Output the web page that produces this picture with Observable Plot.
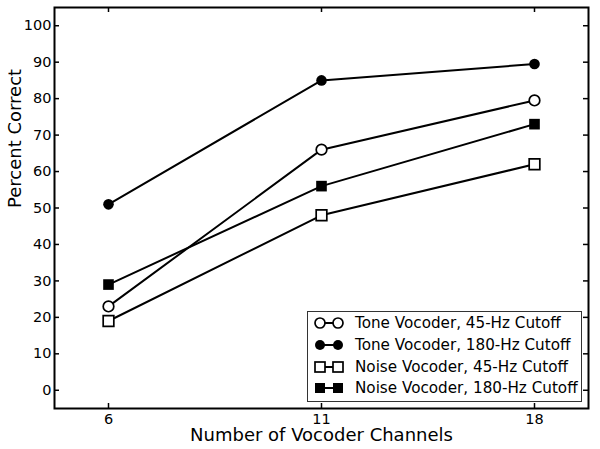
<!DOCTYPE html>
<html>
<head>
<meta charset="utf-8">
<script src="https://cdn.jsdelivr.net/npm/d3@7"></script>
<script src="https://cdn.jsdelivr.net/npm/@observablehq/plot@0.6"></script>
<style>
  html, body { margin: 0; padding: 0; background: #fff; }
  #wrap { position: relative; width: 600px; height: 449px; font-family: "DejaVu Sans", sans-serif; }
  #wrap svg, #wrap svg text { font-family: "DejaVu Sans" !important; }
  #legend { position: absolute; left: 307px; top: 311px; width: 273px; height: 89px; border: 1px solid #333; background: #fff; box-sizing: content-box; }
  .row { position: absolute; left: 0; height: 20px; display: flex; align-items: center; }
  .row svg { margin-left: 3px; }
  .row span { position: absolute; left: 47px; font-size: 15.2px; line-height: 20px; white-space: nowrap; color: #000; }
</style>
</head>
<body>
<div id="wrap"></div>
<script>
const channels = [6, 11, 18];
const seriesNames = [
  "Tone Vocoder, 45-Hz Cutoff",
  "Tone Vocoder, 180-Hz Cutoff",
  "Noise Vocoder, 45-Hz Cutoff",
  "Noise Vocoder, 180-Hz Cutoff"
];
const tone45 = [23, 66, 79.5];
const tone180 = [51, 85, 89.5];
const noise45 = [19, 48, 62];
const noise180 = [29, 56, 73];
const yTicks = [0, 10, 20, 30, 40, 50, 60, 70, 80, 90, 100];
const seriesValues = [tone45, tone180, noise45, noise180];
const seriesSymbol = ["circle", "circle", "square", "square"];
const seriesFilled = [false, true, false, true];

const W = 600, H = 449, mL = 54, mR = 12, mT = 7, mB = 41;
const pw = W - mL - mR, ph = H - mT - mB;

const data = [];
seriesNames.forEach((s, i) => channels.forEach((c, j) => data.push({series: s, ch: c, v: seriesValues[i][j]})));

const marks = [
  Plot.line(data, {x: "ch", y: "v", z: "series", stroke: "black", strokeWidth: 2})
];
seriesNames.forEach((s, i) => {
  marks.push(Plot.dot(data.filter(d => d.series === s), {
    x: "ch", y: "v",
    symbol: () => seriesSymbol[i],
    r: seriesSymbol[i] === "circle" ? 5.3 : 6,
    fill: seriesFilled[i] ? "black" : "white",
    stroke: "black",
    strokeWidth: seriesFilled[i] ? 0 : 1.7
  }));
});
marks.push(
  Plot.frame({stroke: "black", strokeWidth: 2}),
  Plot.tickY(yTicks, {y: d => d, stroke: "black", strokeWidth: 1.5, insetRight: pw - 5}),
  Plot.tickY(yTicks, {y: d => d, stroke: "black", strokeWidth: 1.5, insetLeft: pw - 5}),
  Plot.tickX(channels, {x: d => d, stroke: "black", strokeWidth: 1.5, insetBottom: ph - 5}),
  Plot.tickX(channels, {x: d => d, stroke: "black", strokeWidth: 1.5, insetTop: ph - 5}),
  Plot.text(yTicks, {y: d => d, text: d => String(d), frameAnchor: "left", dx: -3, textAnchor: "end", fontSize: 14.5, fill: "black"}),
  Plot.text(channels, {x: d => d, text: d => String(d), frameAnchor: "bottom", lineAnchor: "top", dy: 5, fontSize: 14.5, fill: "black"}),
  Plot.text(["Percent Correct"], {frameAnchor: "left", dx: -39, rotate: -90, fontSize: 18, fill: "black"}),
  Plot.text(["Number of Vocoder Channels"], {frameAnchor: "bottom", dy: 32, fontSize: 18, fill: "black"})
);

const chart = Plot.plot({
  width: W, height: H,
  marginLeft: mL, marginRight: mR, marginTop: mT, marginBottom: mB,
  style: {fontFamily: "DejaVu Sans", fontSize: "14.5px", color: "black", background: "white", overflow: "visible"},
  x: {type: "point", domain: channels, padding: 0.25, axis: null},
  y: {domain: [-5, 105], axis: null},
  marks
});
const wrap = document.getElementById("wrap");
wrap.appendChild(chart);

// Legend
const legend = document.createElement("div");
legend.id = "legend";
const rowTops = [1, 23, 44.5, 66];
seriesNames.forEach((s, i) => {
  const row = document.createElement("div");
  row.className = "row";
  row.style.top = rowTops[i] + "px";
  const filled = seriesFilled[i];
  const fill = filled ? "black" : "white";
  const sw = filled ? 0 : 1.7;
  let mk = "";
  const xs = [9, 27];
  xs.forEach(x => {
    if (seriesSymbol[i] === "circle") mk += `<circle cx="${x}" cy="10" r="5" fill="${fill}" stroke="black" stroke-width="${sw}"/>`;
    else mk += `<rect x="${x - 5}" y="5" width="10" height="10" fill="${fill}" stroke="black" stroke-width="${sw}"/>`;
  });
  row.innerHTML = `<svg width="36" height="20"><line x1="9" y1="10" x2="27" y2="10" stroke="black" stroke-width="2"/>${mk}</svg><span>${s}</span>`;
  legend.appendChild(row);
});
wrap.appendChild(legend);
</script>
</body>
</html>
